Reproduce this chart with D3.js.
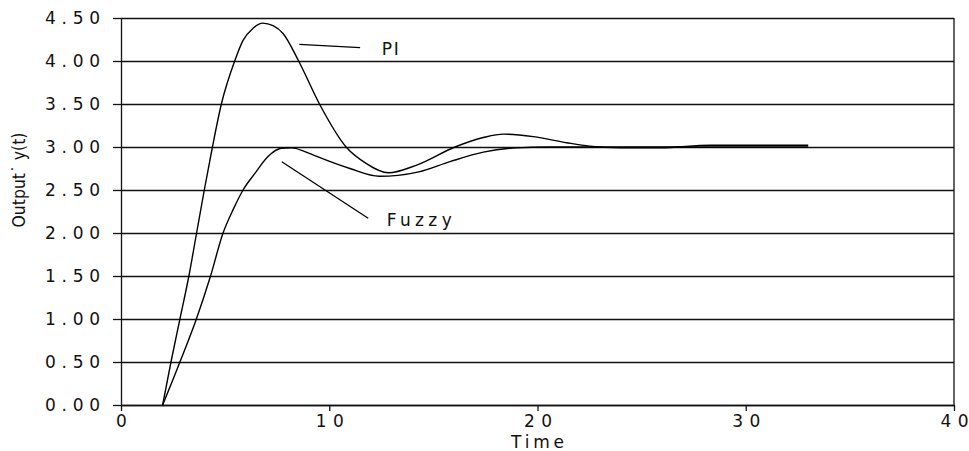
<!DOCTYPE html>
<html lang="en">
<head>
<meta charset="utf-8">
<title>PI vs Fuzzy</title>
<script src="https://cdn.jsdelivr.net/npm/d3@7"></script>
<style>
  body { margin: 0; background: #fff; }
  svg text { font-family: "DejaVu Sans", sans-serif; fill: #111; }
</style>
</head>
<body>
<script>
// step responses
var piTime  = [2.0, 2.4, 2.83, 3.26, 3.63, 4.0, 4.39, 4.82, 5.46, 5.86, 6.34, 6.8, 7.3, 7.78, 8.53, 9.53, 10.81, 11.77, 12.84, 14.2, 16.04, 17.4, 18.36, 19.8, 21.4, 22.5, 24.0, 25.9, 28.3, 30.5, 33.0];
var piValue = [0, 0.5, 1.0, 1.5, 2.0, 2.5, 3.0, 3.5, 4.0, 4.24, 4.38, 4.44, 4.41, 4.32, 4.0, 3.5, 3.0, 2.81, 2.70, 2.79, 3.0, 3.11, 3.15, 3.12, 3.05, 3.01, 2.99, 2.99, 3.02, 3.02, 3.02];

var fuzzyTime  = [2.0, 2.83, 3.62, 4.30, 4.90, 5.4, 5.86, 6.42, 7.06, 7.70, 8.2, 8.8, 9.4, 10.99, 12.4, 13.3, 14.3, 15.8, 17.4, 19.0, 20.5, 23.0, 26.0, 30.0, 33.0];
var fuzzyValue = [0, 0.5, 1.0, 1.5, 2.0, 2.28, 2.5, 2.69, 2.89, 2.985, 2.99, 2.95, 2.89, 2.75, 2.66, 2.67, 2.71, 2.83, 2.94, 2.99, 3.0, 3.0, 3.0, 3.0, 3.0];

var xTicks = [0, 10, 20, 30, 40];
var yTicks = [0, 0.5, 1.0, 1.5, 2.0, 2.5, 3.0, 3.5, 4.0, 4.5];

// callouts: [t1, y1, t2, y2, label t, label y, text]
var piNote    = [8.56, 4.194, 11.48, 4.155, 12.52, 4.07, "PI"];
var fuzzyNote = [7.72, 2.829, 11.87, 2.171, 12.76, 2.081, "Fuzzy"];

var width = 969, height = 451;
var plotLeft = 121, plotRight = 954, plotTop = 18, plotBottom = 405;

// the original lettering is a wide plotter font, so stretch spacing to the measured widths
var textWidth = { tickY: 55, tickX: 28, PI: 17, Fuzzy: 65, Time: 53 };
function spread(sel, w) {
  sel.each(function(){
    if (this.textContent.length > 1) d3.select(this).attr("textLength", w).attr("lengthAdjust", "spacing");
  });
}

var svg = d3.select("body").append("svg")
  .attr("width", width).attr("height", height);

var x = d3.scaleLinear().domain([0, 40]).range([plotLeft, plotRight]);
var y = d3.scaleLinear().domain([0, 4.5]).range([plotBottom, plotTop]);

// horizontal grid
svg.append("g")
  .attr("transform", "translate(" + plotLeft + ",0)")
  .call(d3.axisLeft(y).tickValues(yTicks).tickSize(-(plotRight - plotLeft)).tickFormat(""))
  .call(function(g){ g.select(".domain").remove(); })
  .selectAll("line").attr("stroke", "#111").attr("stroke-width", 1.3);

// y axis with labels
var yAxis = svg.append("g")
  .attr("transform", "translate(" + plotLeft + ",0)")
  .call(d3.axisLeft(y).tickValues(yTicks).tickSize(8).tickSizeOuter(0).tickPadding(13).tickFormat(d3.format(".2f")));
yAxis.select(".domain").attr("stroke", "#111").attr("stroke-width", 1.3);
yAxis.selectAll("line").attr("stroke", "#111").attr("stroke-width", 1.3);
yAxis.selectAll("text").style("font-size", "17px").attr("fill", "#111")
  .call(spread, textWidth.tickY);

// x axis
var xAxis = svg.append("g")
  .attr("transform", "translate(0," + plotBottom + ")")
  .call(d3.axisBottom(x).tickValues(xTicks).tickSize(6).tickSizeOuter(0).tickPadding(4));
xAxis.select(".domain").attr("stroke", "#111").attr("stroke-width", 1.3);
xAxis.selectAll("line").attr("stroke", "#111").attr("stroke-width", 1.3);
xAxis.selectAll("text").style("font-size", "17px").attr("fill", "#111")
  .call(spread, textWidth.tickX);

// right border
svg.append("line")
  .attr("x1", x(40)).attr("x2", x(40))
  .attr("y1", y(0)).attr("y2", y(4.5))
  .attr("stroke", "#111").attr("stroke-width", 1.3);

// curves
var line = d3.line()
  .x(function(d){ return x(d[0]); })
  .y(function(d){ return y(d[1]); })
  .curve(d3.curveMonotoneX);

var series = [d3.zip(piTime, piValue), d3.zip(fuzzyTime, fuzzyValue)];
svg.selectAll("path.curve").data(series)
  .enter().append("path")
  .attr("class", "curve")
  .attr("d", line)
  .attr("fill", "none")
  .attr("stroke", "#000")
  .attr("stroke-width", 1.4);

// callouts
[piNote, fuzzyNote].forEach(function(n){
  svg.append("line")
    .attr("x1", x(n[0])).attr("y1", y(n[1]))
    .attr("x2", x(n[2])).attr("y2", y(n[3]))
    .attr("stroke", "#000").attr("stroke-width", 1.3);
  svg.append("text")
    .attr("x", x(n[4])).attr("y", y(n[5]))
    .style("font-size", "17px")
    .text(n[6])
    .call(spread, textWidth[n[6]]);
});

// axis titles
svg.append("text")
  .attr("x", x(20)).attr("y", 448)
  .attr("text-anchor", "middle")
  .style("font-size", "17px")
  .text("Time")
  .call(spread, textWidth.Time);

svg.append("text")
  .attr("transform", "translate(25,180) rotate(-90)")
  .attr("text-anchor", "middle")
  .attr("textLength", 95).attr("lengthAdjust", "spacingAndGlyphs")
  .style("font-family", "'Liberation Sans Narrow','DejaVu Sans Condensed',sans-serif")
  .style("font-size", "17px")
  .text("Output\u02D9 y(t)");
</script>
</body>
</html>
